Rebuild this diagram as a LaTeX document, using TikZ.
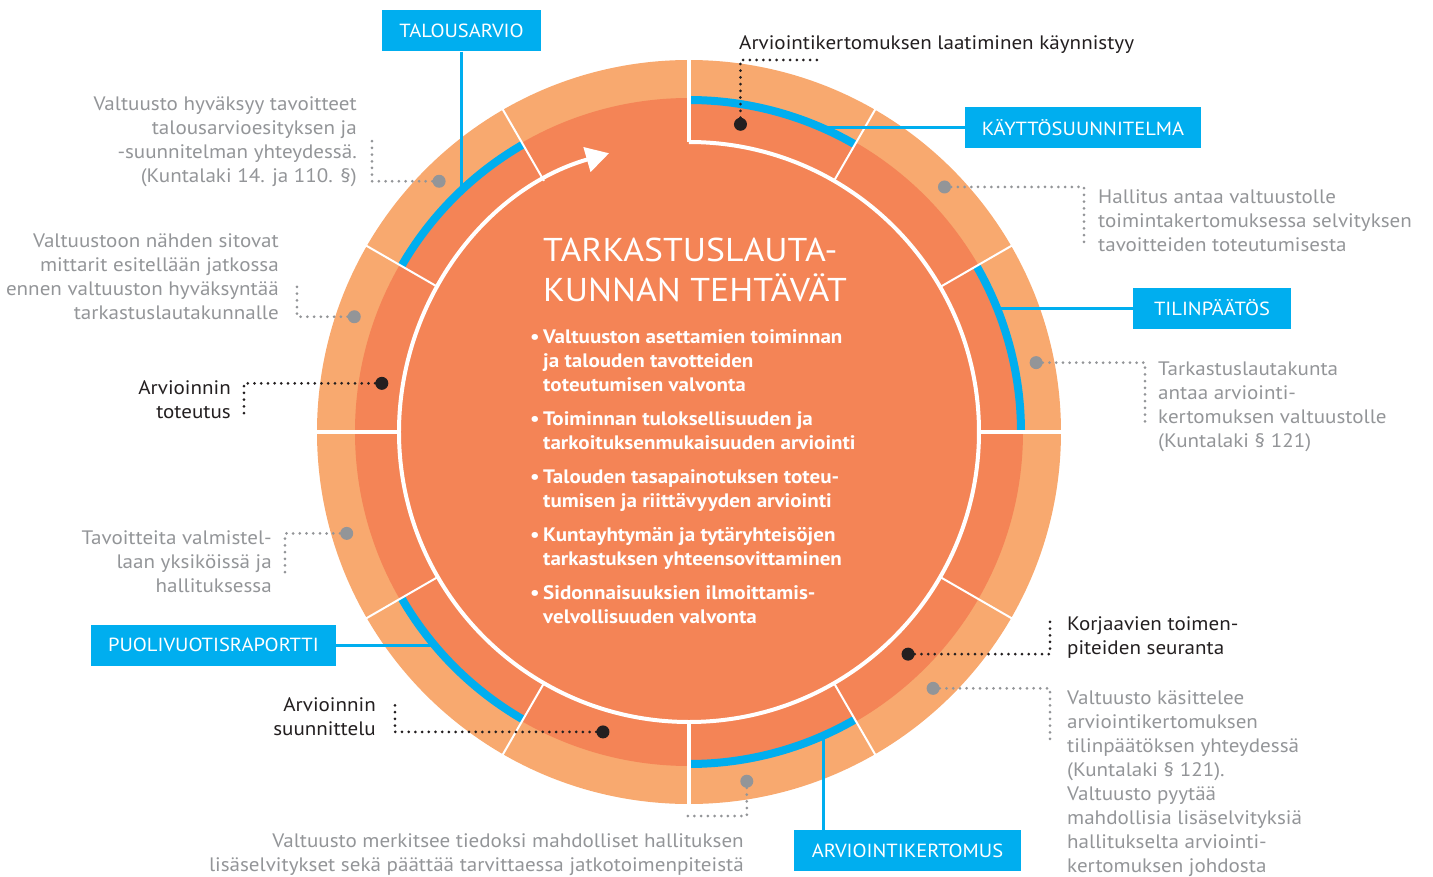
\documentclass[tikz,border=0pt]{standalone}
\usepackage{fontspec}
\setmainfont{PT Sans}[FakeStretch=1.08]
\usetikzlibrary{arrows.meta}
\definecolor{RingLight}{RGB}{248,169,111}
\definecolor{RingDark}{RGB}{244,132,86}
\definecolor{TagBlue}{RGB}{0,174,239}
\definecolor{NoteGray}{RGB}{147,149,152}
\definecolor{InkDark}{RGB}{35,31,32}
\tikzset{
  tag/.style={fill=TagBlue,text=white,font=\fontsize{19}{22}\selectfont,minimum height=41pt,inner sep=0pt},
  link/.style={draw=TagBlue,line width=3pt},
  note/.style={text=NoteGray,font=\fontsize{19.5}{24}\selectfont,inner sep=0pt},
  phase/.style={text=InkDark,font=\fontsize{19.5}{24}\selectfont,inner sep=0pt},
}
\tikzset{pin/.style={circle,fill=InkDark,inner sep=0pt,minimum size=13pt}, gpin/.style={circle,fill=NoteGray,inner sep=0pt,minimum size=13pt},
  dots/.style={line width=3pt,line cap=round,dash pattern=on 0pt off 6.7pt}, divider/.style={draw=white,line width=2pt}}

\begin{document}
\begin{tikzpicture}[x=1pt,y=1pt]
\useasboundingbox (-689,-444) rectangle (744,432);
% rings
\fill[RingLight] (0,0) circle (372);
\fill[RingDark] (0,0) circle (334);
\foreach \a in {0,60,120,210,270}
  \draw[TagBlue,line width=8pt] (\a:332) arc[start angle=\a,end angle=\a+30,radius=332];
\foreach \a in {30,60,120,150,210,240,300,330}
  \draw[divider] (\a:290) -- (\a:373);
\foreach \a in {0,90,180,270}
  \draw[divider,line width=4pt] (\a:290) -- (\a:373);
\draw[white,line width=4pt,-{Triangle[length=23pt,width=25pt]}] (90:290) arc[start angle=90,end angle=-254,radius=290];
% centre
\node[anchor=north west,inner sep=0pt,text=white,font=\fontsize{33}{40}\selectfont,align=left] (title) at (-146,194.5) {TARKASTUSLAUTA-\\KUNNAN TEHTÄVÄT};
\node[anchor=north west,inner sep=0pt,text=white,font=\bfseries\fontsize{19.5}{24}\selectfont] (tasks) at (-159,106) {%
\begin{tabular}{@{}l@{}l@{}}
\makebox[13pt][l]{\textbullet} & Valtuuston asettamien toiminnan\\
 & ja talouden tavotteiden\\
 & toteutumisen valvonta\\[10pt]
\textbullet & Toiminnan tuloksellisuuden ja\\
 & tarkoituksenmukaisuuden arviointi\\[10pt]
\textbullet & Talouden tasapainotuksen toteu-\\
 & tumisen ja riittävyyden arviointi\\[10pt]
\textbullet & Kuntayhtymän ja tytäryhteisöjen\\
 & tarkastuksen yhteensovittaminen\\[10pt]
\textbullet & Sidonnaisuuksien ilmoittamis-\\
 & velvollisuuden valvonta
\end{tabular}};
% pins
\node[pin] (pStart) at (80.5:312) {};
\node[pin] (pRun) at (171:311) {};
\node[pin] (pPlan) at (254:312) {};
\node[pin] (pFix) at (314.6:312) {};
\node[gpin] (gBudget) at (134.9:354) {};
\node[gpin] (gMetric) at (161:354) {};
\node[gpin] (gReport) at (43.8:354) {};
\node[gpin] (gAudit) at (11.3:354) {};
\node[gpin] (gPrep) at (196.5:357) {};
\node[gpin] (gCouncil) at (-46.4:354) {};
\node[gpin] (gNote) at (-80.6:354) {};
\coordinate (cStart) at (129,372);
\coordinate (cRun) at (-445,17);
\coordinate (cPlan) at (-294,-268);
\coordinate (cFix) at (361,-188);
\coordinate (cBudget) at (-317,295);
\coordinate (cMetric) at (-392,151);
\coordinate (cReport) at (395,186);
\coordinate (cAudit) at (456,10);
\coordinate (cPrep) at (-404,-146);
\coordinate (cCouncil) at (361,-308);
\coordinate (cNote) at (-7,-384);
\draw[dots,InkDark] (pStart) |- (cStart);
\draw[dots,InkDark] (pRun) -| (cRun);
\draw[dots,InkDark] (pPlan) -| (cPlan);
\draw[dots,InkDark] (pFix) -| (cFix);
\draw[dots,NoteGray] (gBudget) -| (cBudget);
\draw[dots,NoteGray] (gMetric) -| (cMetric);
\draw[dots,NoteGray] (gReport) -| (cReport);
\draw[dots,NoteGray] (gAudit) -| (cAudit);
\draw[dots,NoteGray] (gPrep) -| (cPrep);
\draw[dots,NoteGray] (gCouncil) -| (cCouncil);
\draw[dots,NoteGray] (gNote) |- (cNote);
% labels
\node[phase,anchor=north west,align=left] (tStart) at (50,397) {Arviointikertomuksen laatiminen käynnistyy};
\node[phase,anchor=north east,align=right] (tRun) at (-458,52) {Arvioinnin\\toteutus};
\node[phase,anchor=north east,align=right] (tPlan) at (-313,-265) {Arvioinnin\\suunnittelu};
\node[phase,anchor=north west,align=left] (tFix) at (378,-184) {Korjaavien toimen-\\piteiden seuranta};
\node[note,anchor=north east,align=right] (nBudget) at (-332,336) {Valtuusto hyväksyy tavoitteet\\talousarvioesityksen ja\\-suunnitelman yhteydessä.\\(Kuntalaki 14. ja 110. §)};
\node[note,anchor=north east,align=right] (nMetric) at (-410,199) {Valtuustoon nähden sitovat\\mittarit esitellään jatkossa\\ennen valtuuston hyväksyntää\\tarkastuslautakunnalle};
\node[note,anchor=north west,align=left] (nReport) at (409,243) {Hallitus antaa valtuustolle\\toimintakertomuksessa selvityksen\\tavoitteiden toteutumisesta};
\node[note,anchor=north west,align=left] (nAudit) at (469,70) {Tarkastuslautakunta\\antaa arviointi-\\kertomuksen valtuustolle\\(Kuntalaki § 121)};
\node[note,anchor=north east,align=right] (nPrep) at (-417,-98) {Tavoitteita valmistel-\\laan yksiköissä ja\\hallituksessa};
\node[note,anchor=north west,align=left] (nCouncil) at (378,-258) {Valtuusto käsittelee\\arviointikertomuksen\\tilinpäätöksen yhteydessä\\(Kuntalaki § 121).\\Valtuusto pyytää\\mahdollisia lisäselvityksiä\\hallitukselta arviointi-\\kertomuksen johdosta};
\node[note,anchor=north east,align=right] (nNote) at (55,-401) {Valtuusto merkitsee tiedoksi mahdolliset hallituksen\\lisäselvitykset sekä päättää tarvittaessa jatkotoimenpiteistä};
% phases of the year
\node[tag,minimum width=159pt] (talousarvio) at (-227.5,401) {TALOUSARVIO};
\node[tag,minimum width=236pt] (kaytto) at (394,304.5) {KÄYTTÖSUUNNITELMA};
\node[tag,minimum width=158pt] (tilinpaatos) at (523,124) {TILINPÄÄTÖS};
\node[tag,minimum width=245pt] (puolivuosi) at (-475.5,-213) {PUOLIVUOTISRAPORTTI};
\node[tag,minimum width=227pt] (arviointi) at (218.5,-418.5) {ARVIOINTIKERTOMUS};
\coordinate (aBudget) at (132.8:334);
\coordinate (aUsage) at (65.7:334);
\coordinate (aClosing) at (21.8:334);
\coordinate (aHalf) at (219.6:334);
\coordinate (aReview) at (293.8:334);
\draw[link] (talousarvio.south) -- (talousarvio.south |- aBudget);
\draw[link] (kaytto.west) -- (kaytto.west -| aUsage);
\draw[link] (tilinpaatos.west) -- (tilinpaatos.west -| aClosing);
\draw[link] (puolivuosi.east) -- (puolivuosi.east -| aHalf);
\draw[link] (aReview) -- (aReview |- arviointi.north);
\end{tikzpicture}
\end{document}
